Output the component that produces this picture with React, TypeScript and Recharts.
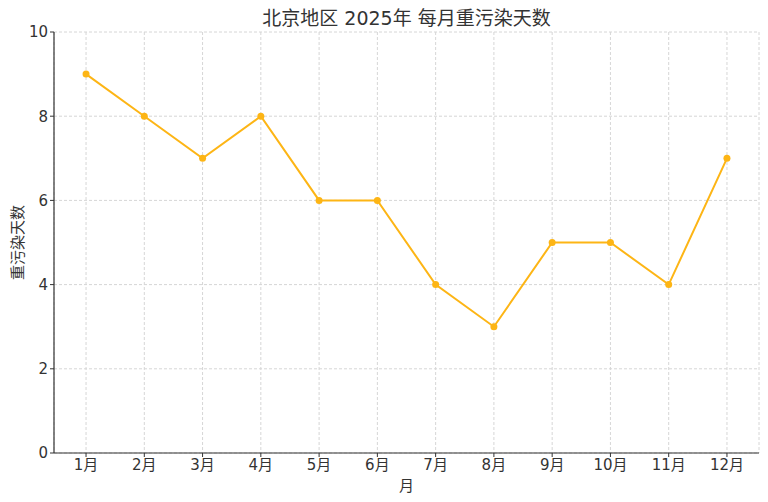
import { CartesianGrid, Line, LineChart, XAxis, YAxis } from 'recharts';

const months = ['1月', '2月', '3月', '4月', '5月', '6月', '7月', '8月', '9月', '10月', '11月', '12月'];
const days = [9, 8, 7, 8, 6, 6, 4, 3, 5, 5, 4, 7];
const yTicks = [0, 2, 4, 6, 8, 10];

const title = '北京地区 2025年 每月重污染天数';
const xLabel = '月';
const yLabel = '重污染天数';

const FONT = '"DejaVu Sans", "Noto Sans CJK SC", sans-serif';
const TEXT = '#333333';
const ORANGE = '#FDB515';

export default function App() {
  const data = months.map((m, i) => ({ x: i + 1, month: m, value: days[i] }));

  return (
    <div style={{ position: 'absolute', left: 0, top: 0, width: 768, height: 502, background: '#fff', fontFamily: FONT }}>
      <div
        style={{
          position: 'absolute',
          left: 54,
          width: 705,
          top: 6,
          textAlign: 'center',
          fontSize: 19,
          color: TEXT,
          lineHeight: '24px',
        }}
      >
        {title}
      </div>
      <LineChart width={768} height={502} data={data} margin={{ top: 32, right: 9, bottom: 19, left: 0 }}>
        <CartesianGrid stroke="#d6d6d6" strokeDasharray="3 2" />
        <XAxis
          dataKey="x"
          type="number"
          domain={[0.45, 12.55]}
          ticks={data.map((d) => d.x)}
          tickFormatter={(v: number) => months[v - 1]}
          tick={{ fill: TEXT, fontSize: 15, fontFamily: FONT }}
          tickLine={{ stroke: '#333' }}
          tickSize={4}
          axisLine={{ stroke: '#333', strokeWidth: 1.2 }}
          height={30}
          label={{ value: xLabel, position: 'insideBottom', offset: -8, fill: TEXT, fontSize: 15, fontFamily: FONT }}
          allowDataOverflow
        />
        <YAxis
          type="number"
          domain={[0, 10]}
          ticks={yTicks}
          tick={{ fill: TEXT, fontSize: 15, fontFamily: FONT }}
          tickLine={{ stroke: '#333' }}
          tickSize={4}
          axisLine={{ stroke: '#333', strokeWidth: 1.2 }}
          width={54}
          label={{ value: yLabel, angle: -90, position: 'insideLeft', offset: 18, fill: TEXT, fontSize: 15, fontFamily: FONT, style: { textAnchor: 'middle' } }}
        />
        <Line
          dataKey="value"
          type="linear"
          stroke={ORANGE}
          strokeWidth={2}
          dot={{ r: 3.5, fill: ORANGE, stroke: ORANGE, strokeWidth: 0 }}
          activeDot={false}
          isAnimationActive={false}
        />
      </LineChart>
    </div>
  );
}
